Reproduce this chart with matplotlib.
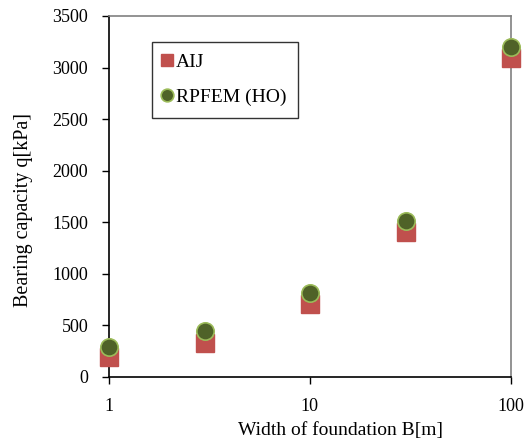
import numpy as np
import matplotlib.pyplot as plt
from matplotlib.ticker import FixedLocator, NullLocator

plt.rcParams['font.family'] = ['Liberation Serif', 'DejaVu Serif']

width_b = [1, 3, 10, 30, 100]
aij = [190, 330, 705, 1405, 3090]
rpfem = [292, 446, 812, 1515, 3200]

fig = plt.figure(figsize=(5.32, 4.43), dpi=100)
ax = fig.add_axes([0.205, 0.149, 0.755, 0.815])

ax.plot(width_b, aij, linestyle='none', marker='s', markersize=12.5,
        color='#C0504D', markeredgecolor='#C0504D', label='AIJ', zorder=3,
        clip_on=False)
ax.plot(width_b, rpfem, linestyle='none', marker='o', markersize=12.5,
        markerfacecolor='#4F6228', markeredgecolor='#9BBB59', markeredgewidth=1.2,
        label='RPFEM (HO)', zorder=4, clip_on=False)

ax.set_xscale('log')
ax.set_xlim(1, 100)
ax.set_ylim(0, 3500)
ax.xaxis.set_major_locator(FixedLocator([1, 10, 100]))
ax.xaxis.set_minor_locator(NullLocator())
ax.set_xticklabels(['1', '10', '100'])
ax.set_yticks(np.arange(0, 3501, 500))

ax.tick_params(axis='both', direction='out', length=5, width=1, labelsize=13, color='black')
ax.tick_params(axis='x', pad=10)
ax.tick_params(axis='y', pad=10)
ax.spines['left'].set_color('black')
ax.spines['bottom'].set_color('black')
ax.spines['top'].set_color('#808080')
ax.spines['right'].set_color('#808080')
for s in ax.spines.values():
    s.set_linewidth(1.2)

ax.set_xlabel('Width of foundation B[m]', fontsize=14)
ax.set_ylabel('Bearing capacity q[kPa]', fontsize=14.5)
ax.xaxis.set_label_coords(0.575, -0.125)
ax.yaxis.set_label_coords(-0.19, 0.463)

leg = ax.legend(loc='upper left', bbox_to_anchor=(0.108, 0.929), fontsize=14,
                frameon=True, fancybox=False, edgecolor='black', markerscale=0.73,
                handlelength=0.3, handletextpad=0.3, labelspacing=0.9,
                borderpad=0.6, borderaxespad=0)
leg.get_frame().set_linewidth(1.0)

fig.savefig('out.png', dpi=100)
